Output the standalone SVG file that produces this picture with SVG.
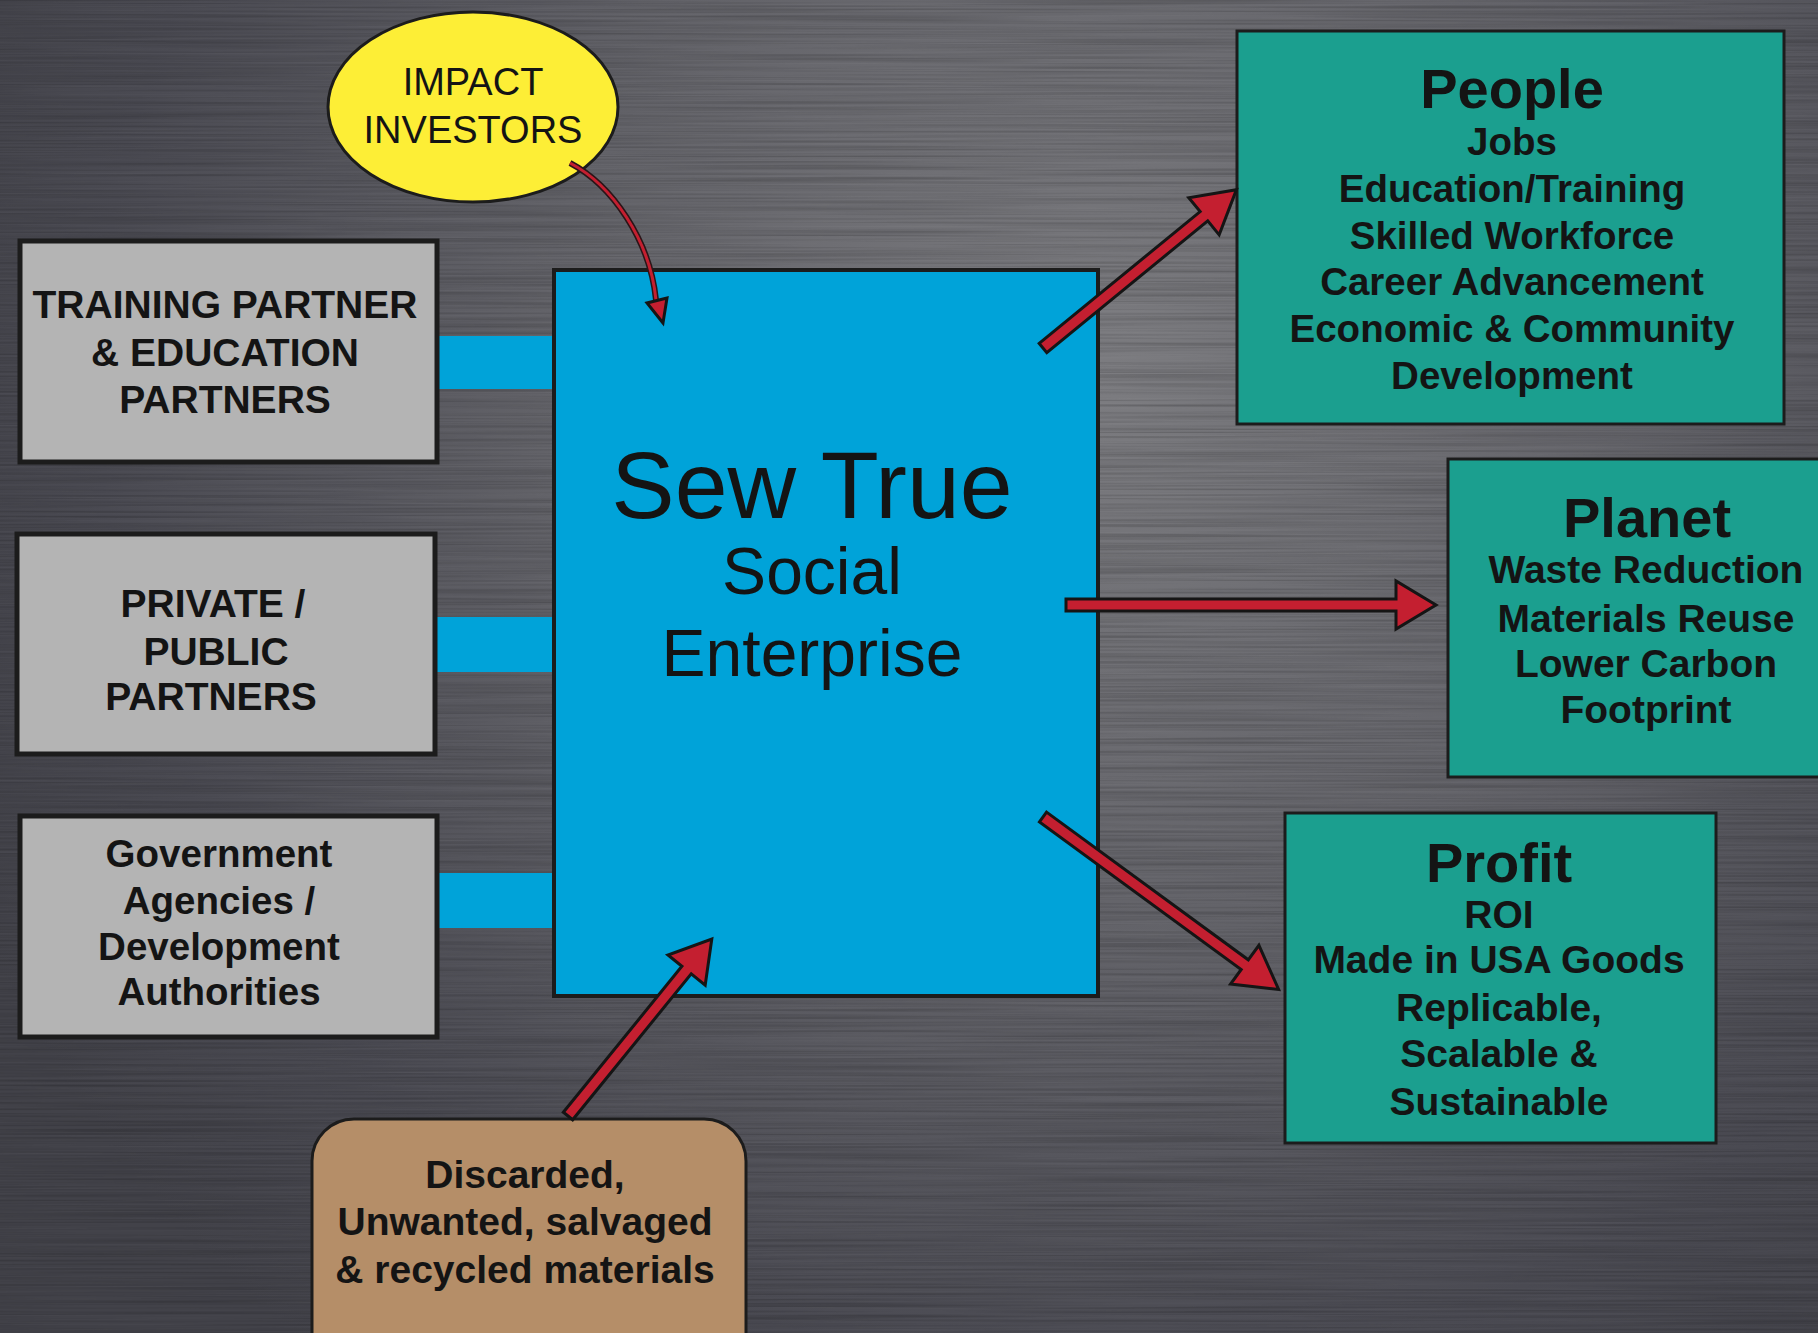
<svg xmlns="http://www.w3.org/2000/svg" width="1818" height="1333" viewBox="0 0 1818 1333">
<defs>
<radialGradient id="bg" cx="1100" cy="380" r="1250" gradientUnits="userSpaceOnUse">
<stop offset="0" stop-color="#7c7c80"/>
<stop offset="0.45" stop-color="#626268"/>
<stop offset="0.8" stop-color="#4a4a52"/>
<stop offset="1" stop-color="#424249"/>
</radialGradient>
<filter id="brush" x="0" y="0" width="100%" height="100%">
<feTurbulence type="fractalNoise" baseFrequency="0.003 0.45" numOctaves="2" seed="4"/>
<feColorMatrix type="matrix" values="0 0 0 0 0  0 0 0 0 0  0 0 0 0 0  0.8 0 0 0 -0.3"/>
</filter>
<filter id="brush2" x="0" y="0" width="100%" height="100%">
<feTurbulence type="fractalNoise" baseFrequency="0.004 0.6" numOctaves="2" seed="9"/>
<feColorMatrix type="matrix" values="0 0 0 0 1  0 0 0 0 1  0 0 0 0 1  0.7 0 0 0 -0.35"/>
</filter>
</defs>
<style>
.gray{fill:#b4b4b4;stroke:#1c1c1c;stroke-width:5}
.blue{fill:#00a3d9;stroke:#1c1c1c;stroke-width:4}
.bar{fill:#00a3d9}
.teal{fill:#1b9f8f;stroke:#1c1c1c;stroke-width:3}
.brown{fill:#b58e68;stroke:#1c1c1c;stroke-width:3}
.yellow{fill:#fdee36;stroke:#1c1c1c;stroke-width:3}
.arrow{fill:#c41f30;stroke:#151515;stroke-width:3;stroke-linejoin:miter}
text{font-family:"Liberation Sans",Arial,sans-serif;fill:#141414;text-anchor:middle}
.b{font-weight:bold}
.t38{font-size:38.5px}
.t39{font-size:39px}
.title{font-size:56px;font-weight:bold}
</style>
<rect width="1818" height="1333" fill="url(#bg)"/>
<rect width="1818" height="1333" filter="url(#brush)" opacity="0.45"/>
<rect width="1818" height="1333" filter="url(#brush2)" opacity="0.12"/>

<g id="connectors">
<rect class="bar" x="435" y="336" width="121" height="53"/>
<rect class="bar" x="433" y="617" width="123" height="55"/>
<rect class="bar" x="435" y="873" width="121" height="55"/>
</g>

<g id="sew-true">
<rect class="blue" x="554" y="270" width="544" height="726"/>
<text x="812" y="518" style="font-size:95px">Sew True</text>
<text x="812" y="594" style="font-size:66px">Social</text>
<text x="812" y="676" style="font-size:66px">Enterprise</text>
</g>

<g id="impact-investors">
<ellipse class="yellow" cx="473" cy="107" rx="145" ry="95"/>
<text x="473" y="95" style="font-size:38px">IMPACT</text>
<text x="473" y="143" style="font-size:38px">INVESTORS</text>
</g>

<g id="training">
<rect class="gray" x="20" y="241" width="417" height="221"/>
<text class="b t39" x="225" y="318">TRAINING PARTNER</text>
<text class="b t39" x="225" y="366">&amp; EDUCATION</text>
<text class="b t39" x="225" y="413">PARTNERS</text>
</g>

<g id="private-public">
<rect class="gray" x="17" y="534" width="418" height="220"/>
<text class="b t39" x="213" y="617">PRIVATE /</text>
<text class="b t39" x="216" y="665">PUBLIC</text>
<text class="b t39" x="211" y="710">PARTNERS</text>
</g>

<g id="government">
<rect class="gray" x="20" y="816" width="417" height="221"/>
<text class="b t38" x="219" y="867">Government</text>
<text class="b t38" x="219" y="914">Agencies /</text>
<text class="b t38" x="219" y="960">Development</text>
<text class="b t38" x="219" y="1005">Authorities</text>
</g>

<g id="materials">
<rect class="brown" x="312" y="1119" width="434" height="260" rx="42"/>
<text class="b t39" x="525" y="1188">Discarded,</text>
<text class="b t39" x="525" y="1235">Unwanted, salvaged</text>
<text class="b t39" x="525" y="1283">&amp; recycled materials</text>
</g>

<g id="people">
<rect class="teal" x="1237" y="31" width="547" height="393"/>
<text class="title" x="1512" y="108">People</text>
<text class="b t38" x="1512" y="155">Jobs</text>
<text class="b t38" x="1512" y="202">Education/Training</text>
<text class="b t38" x="1512" y="249">Skilled Workforce</text>
<text class="b t38" x="1512" y="295">Career Advancement</text>
<text class="b t38" x="1512" y="342">Economic &amp; Community</text>
<text class="b t38" x="1512" y="389">Development</text>
</g>

<g id="planet">
<rect class="teal" x="1448" y="459" width="380" height="318"/>
<text class="title" x="1647" y="537">Planet</text>
<text class="b t39" x="1646" y="583">Waste Reduction</text>
<text class="b t39" x="1646" y="632">Materials Reuse</text>
<text class="b t39" x="1646" y="677">Lower Carbon</text>
<text class="b t39" x="1646" y="723">Footprint</text>
</g>

<g id="profit">
<rect class="teal" x="1285" y="813" width="431" height="330"/>
<text class="title" x="1499" y="882">Profit</text>
<text class="b t39" x="1499" y="928">ROI</text>
<text class="b t39" x="1499" y="973">Made in USA Goods</text>
<text class="b t39" x="1499" y="1021">Replicable,</text>
<text class="b t39" x="1499" y="1067">Scalable &amp;</text>
<text class="b t39" x="1499" y="1115">Sustainable</text>
</g>

<g id="arrows">
<path d="M 570 163 C 612 185, 650 240, 656 300" fill="none" stroke="#2a1518" stroke-width="6"/>
<path d="M 570 163 C 612 185, 650 240, 656 300" fill="none" stroke="#c41f30" stroke-width="3"/>
<polygon class="arrow" stroke-width="2" points="663,323 647,303 667,298"/>
<g transform="translate(1043,348) rotate(-39.3)">
<polygon class="arrow" points="0,-6 208,-6 208,-24 250,0 208,24 208,6 0,6"/>
</g>
<g transform="translate(1066,605)">
<polygon class="arrow" points="0,-6 330,-6 330,-24 370,0 330,24 330,6 0,6"/>
</g>
<g transform="translate(1043,817) rotate(36.2)">
<polygon class="arrow" points="0,-6 250,-6 250,-24 292,0 250,24 250,6 0,6"/>
</g>
<g transform="translate(568,1116) rotate(-50.9)">
<polygon class="arrow" points="0,-6 188,-6 188,-24 228,0 188,24 188,6 0,6"/>
</g>
</g>
</svg>
